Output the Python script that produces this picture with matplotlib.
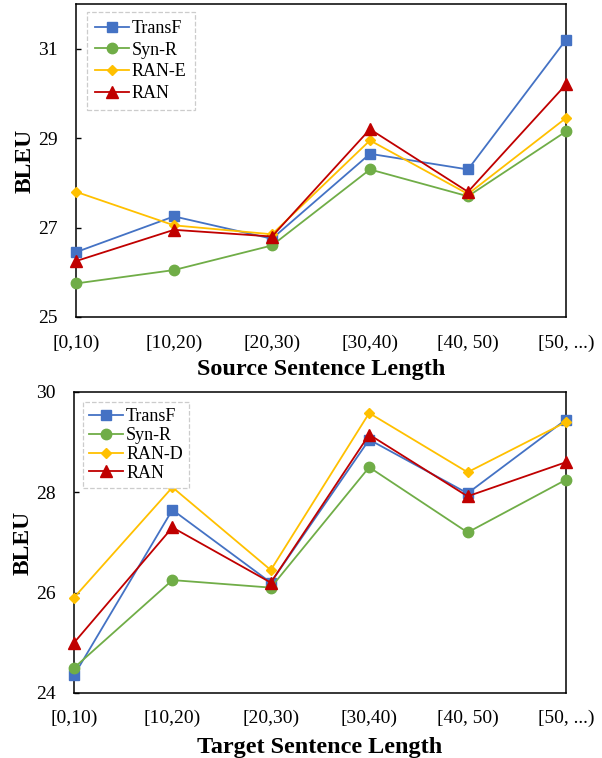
import matplotlib.pyplot as plt

plt.rcParams['font.family'] = ['Liberation Serif', 'DejaVu Serif']

categories = ['[0,10)', '[10,20)', '[20,30)', '[30,40)', '[40, 50)', '[50, ...)']

# Source sentence length
src_transf = [26.45, 27.25, 26.75, 28.65, 28.3, 31.2]
src_synr = [25.75, 26.05, 26.6, 28.3, 27.7, 29.15]
src_rane = [27.8, 27.05, 26.85, 28.95, 27.75, 29.45]
src_ran = [26.25, 26.95, 26.8, 29.2, 27.8, 30.2]

# Target sentence length
tgt_transf = [24.35, 27.65, 26.2, 29.05, 27.98, 29.45]
tgt_synr = [24.5, 26.25, 26.1, 28.5, 27.2, 28.25]
tgt_rand = [25.9, 28.1, 26.45, 29.58, 28.4, 29.4]
tgt_ran = [25.0, 27.3, 26.2, 29.15, 27.92, 28.6]

blue, green, yellow, red = '#4472C4', '#70AD47', '#FFC000', '#C00000'

fig = plt.figure(figsize=(6.02, 7.58), dpi=100)
ax1 = fig.add_axes([0.1262, 0.5818, 0.814, 0.4129])
ax2 = fig.add_axes([0.1229, 0.0858, 0.8173, 0.3971])

def draw(ax, series, names, ylim, yticks, xlabel, leg_anchor, spacing, bpad, xpad, lpad):
    styles = [(blue, 's', 7), (green, 'o', 7.5), (yellow, 'D', 5.5), (red, '^', 8)]
    x = range(len(categories))
    for vals, name, (c, m, ms) in zip(series, names, styles):
        ax.plot(x, vals, color=c, marker=m, markersize=ms, linewidth=1.3,
                label=name, clip_on=False, zorder=3)
    ax.set_xlim(0, len(categories) - 1)
    ax.set_ylim(*ylim)
    ax.set_yticks(yticks)
    ax.set_xticks(list(x))
    ax.set_xticklabels(categories)
    ax.tick_params(axis='y', direction='in', length=3.5, width=1, labelsize=14, pad=13)
    ax.tick_params(axis='x', length=0, labelsize=14, pad=xpad)
    ax.set_ylabel('BLEU', fontsize=17, fontweight='bold', labelpad=2)
    ax.set_xlabel(xlabel, fontsize=17.4, fontweight='bold', labelpad=lpad)
    for s in ax.spines.values():
        s.set_linewidth(1.1)
    leg = ax.legend(loc='upper left', fontsize=13, fancybox=False, framealpha=1,
                    edgecolor='#CCCCCC', borderpad=bpad, handlelength=1.9,
                    handletextpad=0.15, labelspacing=spacing, borderaxespad=0,
                    bbox_to_anchor=leg_anchor)
    leg.get_frame().set_linestyle('--')
    leg.get_frame().set_linewidth(0.9)

draw(ax1, [src_transf, src_synr, src_rane, src_ran], ['TransF', 'Syn-R', 'RAN-E', 'RAN'],
     (25, 32), [25, 27, 29, 31], 'Source Sentence Length', (0.022, 0.974), 0.25, 0.45, 13, 5)
draw(ax2, [tgt_transf, tgt_synr, tgt_rand, tgt_ran], ['TransF', 'Syn-R', 'RAN-D', 'RAN'],
     (24, 30), [24, 26, 28, 30], 'Target Sentence Length', (0.018, 0.967), 0.1, 0.35, 12, 7)

plt.savefig('out.png', dpi=100)
